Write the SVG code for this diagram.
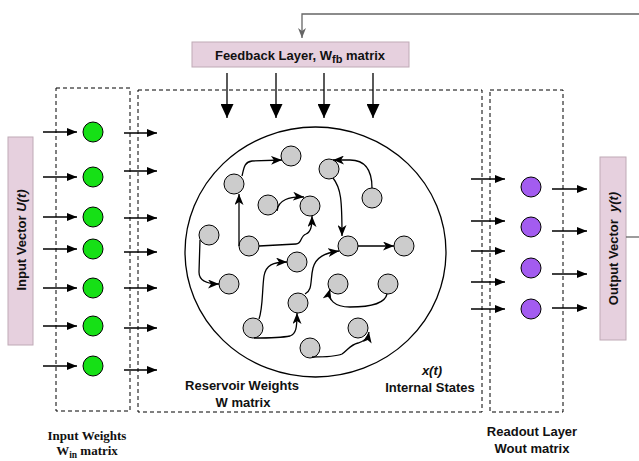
<svg xmlns="http://www.w3.org/2000/svg" width="639" height="461" viewBox="0 0 639 461">
<style>
.dash{fill:none;stroke:#000;stroke-width:1;stroke-dasharray:4,3}
.ln{fill:none;stroke:#000;stroke-width:1.3}
.gl{fill:none;stroke:#666;stroke-width:1.3}
.pink{fill:#e6d0de;stroke:#bfaab6;stroke-width:1}
.g{fill:#16e016;stroke:#000;stroke-width:1}
.p{fill:#a35cf0;stroke:#000;stroke-width:1}
.n{fill:#cccccc;stroke:#000;stroke-width:1}
.t{font-family:"Liberation Sans",Arial,sans-serif;font-weight:bold;font-size:13px;fill:#111}
.s{font-family:"Liberation Serif","Times New Roman",serif;font-weight:bold;font-size:13px;fill:#111}
</style>
<defs>
<marker id="a" markerUnits="userSpaceOnUse" markerWidth="10" markerHeight="8" refX="10" refY="4" orient="auto"><path d="M0,0 L10,4 L0,8 z" fill="#000"/></marker>
<marker id="c" markerUnits="userSpaceOnUse" markerWidth="11" markerHeight="9" refX="11" refY="4.5" orient="auto"><path d="M0,0 L11,4.5 L0,9 L3,4.5 z" fill="#000"/></marker>
<marker id="b" markerUnits="userSpaceOnUse" markerWidth="14" markerHeight="13" refX="14" refY="6.5" orient="auto"><path d="M0,0 L14,6.5 L0,13 z" fill="#000"/></marker>
<marker id="gr" markerUnits="userSpaceOnUse" markerWidth="10" markerHeight="8" refX="10" refY="4" orient="auto"><path d="M0,0 L10,4 L0,8 L3,4 z" fill="#666"/></marker>
</defs>

<g id="boxes">
<rect class="dash" x="56" y="88" width="74" height="323"/>
<rect class="dash" x="138" y="90" width="344" height="322"/>
<rect class="dash" x="490" y="90" width="73" height="322"/>
</g>

<g id="feedback-layer">
<rect class="pink" x="192" y="42" width="217" height="25"/>
<text class="t" x="300" y="59.5" text-anchor="middle" font-size="14.8">Feedback Layer, W<tspan font-size="11" dy="3">fb</tspan><tspan dy="-3"> matrix</tspan></text>
</g>

<g id="input-vector">
<rect class="pink" x="8" y="137" width="25" height="208"/>
<text class="t" transform="translate(26,240) rotate(-90)" text-anchor="middle" font-size="14">Input Vector <tspan font-style="italic">U(t)</tspan></text>
</g>

<g id="output-vector">
<rect class="pink" x="600" y="157" width="26" height="183"/>
<text class="t" transform="translate(618,248.5) rotate(-90)" text-anchor="middle" xml:space="preserve">Output Vector  <tspan font-style="italic">y(t)</tspan></text>
</g>

<g id="input-weights">
<circle class="g" cx="93" cy="132" r="10"/>
<circle class="g" cx="93" cy="177" r="10"/>
<circle class="g" cx="93" cy="217" r="10"/>
<circle class="g" cx="93" cy="249" r="10"/>
<circle class="g" cx="93" cy="288" r="10"/>
<circle class="g" cx="93" cy="326" r="10"/>
<circle class="g" cx="93" cy="366" r="10"/>
<text class="s" x="87" y="440" text-anchor="middle">Input Weights</text>
<text class="s" x="87" y="455" text-anchor="middle">W<tspan font-size="9.5" dy="2.5">in</tspan><tspan dy="-2.5"> matrix</tspan></text>
</g>

<g id="readout-layer">
<circle class="p" cx="531" cy="187" r="10"/>
<circle class="p" cx="531" cy="227" r="10"/>
<circle class="p" cx="531" cy="268" r="10"/>
<circle class="p" cx="531" cy="309" r="10"/>
<text class="t" x="532" y="436" text-anchor="middle">Readout Layer</text>
<text class="t" x="532" y="453" text-anchor="middle">Wout matrix</text>
</g>

<g id="reservoir">
<ellipse cx="315.5" cy="252" rx="130.5" ry="125" fill="none" stroke="#000" stroke-width="1.3"/>
<circle class="n" cx="291" cy="156" r="10"/>
<circle class="n" cx="234" cy="184" r="10"/>
<circle class="n" cx="268" cy="205" r="10"/>
<circle class="n" cx="310" cy="206" r="10"/>
<circle class="n" cx="329" cy="169" r="10"/>
<circle class="n" cx="372" cy="198" r="10"/>
<circle class="n" cx="209" cy="235" r="10"/>
<circle class="n" cx="249" cy="246" r="10"/>
<circle class="n" cx="348" cy="246" r="10"/>
<circle class="n" cx="404" cy="246" r="10"/>
<circle class="n" cx="229" cy="284" r="10"/>
<circle class="n" cx="297" cy="262" r="10"/>
<circle class="n" cx="338" cy="284" r="10"/>
<circle class="n" cx="388" cy="284" r="10"/>
<circle class="n" cx="298" cy="303" r="10"/>
<circle class="n" cx="253" cy="328" r="10"/>
<circle class="n" cx="358" cy="328" r="10"/>
<circle class="n" cx="310" cy="348" r="10"/>
<text class="t" x="242" y="390" text-anchor="middle">Reservoir Weights</text>
<text class="t" x="243" y="407" text-anchor="middle">W matrix</text>
<text class="t" x="432" y="375" text-anchor="middle" font-style="italic" font-size="17">x(t)</text>
<text class="t" x="430" y="392" text-anchor="middle">Internal States</text>
</g>

<g id="connectors">
<path class="gl" d="M639,14 L302,14 L302,38" marker-end="url(#gr)"/>
<path class="gl" d="M626,237 L639,237"/>
<path class="ln" d="M227,73 L227,118" marker-end="url(#b)"/>
<path class="ln" d="M276,73 L276,118" marker-end="url(#b)"/>
<path class="ln" d="M324,73 L324,118" marker-end="url(#b)"/>
<path class="ln" d="M373,73 L373,118" marker-end="url(#b)"/>

<path class="ln" d="M43,132 L77,132" marker-end="url(#a)"/>
<path class="ln" d="M43,177 L77,177" marker-end="url(#a)"/>
<path class="ln" d="M43,217 L77,217" marker-end="url(#a)"/>
<path class="ln" d="M43,249 L77,249" marker-end="url(#a)"/>
<path class="ln" d="M43,288 L77,288" marker-end="url(#a)"/>
<path class="ln" d="M43,326 L77,326" marker-end="url(#a)"/>
<path class="ln" d="M43,366 L77,366" marker-end="url(#a)"/>

<path class="ln" d="M124,133 L157,133" marker-end="url(#a)"/>
<path class="ln" d="M124,171 L157,171" marker-end="url(#a)"/>
<path class="ln" d="M124,218 L157,218" marker-end="url(#a)"/>
<path class="ln" d="M124,252 L157,252" marker-end="url(#a)"/>
<path class="ln" d="M124,288 L157,288" marker-end="url(#a)"/>
<path class="ln" d="M124,328 L157,328" marker-end="url(#a)"/>
<path class="ln" d="M124,370 L157,370" marker-end="url(#a)"/>

<path class="ln" d="M471,179 L505,179" marker-end="url(#a)"/>
<path class="ln" d="M471,221 L505,221" marker-end="url(#a)"/>
<path class="ln" d="M471,251 L505,251" marker-end="url(#a)"/>
<path class="ln" d="M471,282 L505,282" marker-end="url(#a)"/>
<path class="ln" d="M471,309 L505,309" marker-end="url(#a)"/>

<path class="ln" d="M552,189 L587,189" marker-end="url(#a)"/>
<path class="ln" d="M552,231 L587,231" marker-end="url(#a)"/>
<path class="ln" d="M552,274 L587,274" marker-end="url(#a)"/>
<path class="ln" d="M552,308 L587,308" marker-end="url(#a)"/>

<path class="ln" d="M242,176 C244,168 244,162 252,161 L282,160" marker-end="url(#c)"/>
<path class="ln" d="M239,246 L239,194" marker-end="url(#c)"/>
<path class="ln" d="M259,246 L296,244 C302,244 300,236 306,234 C311,232 312,226 312,216" marker-end="url(#c)"/>
<path class="ln" d="M277,211 C278,200 290,196 304,197" marker-end="url(#c)"/>
<path class="ln" d="M372,188 C372,172 366,160 350,160 L333,160" marker-end="url(#c)"/>
<path class="ln" d="M333,178 C341,188 342,200 342,236" marker-end="url(#c)"/>
<path class="ln" d="M358,246 L394,246" marker-end="url(#c)"/>
<path class="ln" d="M200,240 L199,272 C199,280 205,284 219,284" marker-end="url(#c)"/>
<path class="ln" d="M259,319 C263,308 262,290 264,276 C266,265 273,262 287,262" marker-end="url(#c)"/>
<path class="ln" d="M254,338 C262,338 280,338 290,336 C296,334 297,328 297,313" marker-end="url(#c)"/>
<path class="ln" d="M305,294 C313,290 310,280 313,268 C316,257 325,253 339,251" marker-end="url(#c)"/>
<path class="ln" d="M387,294 C385,304 370,307 350,307 C335,307 327,300 330,289" marker-end="url(#c)"/>
<path class="ln" d="M312,357 C325,357 335,357 342,354 C348,350 350,345 358,343 C365,341 368,338 369,332" marker-end="url(#c)"/>
</g>
</svg>
